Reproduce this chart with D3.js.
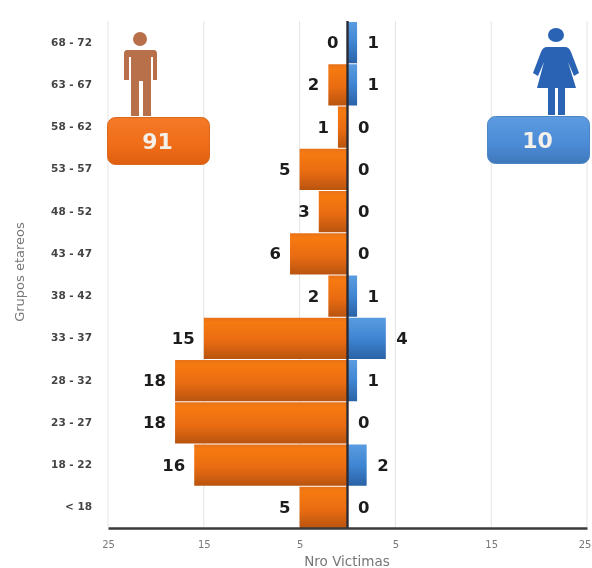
<!DOCTYPE html>
<html><head><meta charset="utf-8">
<script src="https://cdn.jsdelivr.net/npm/d3@7"></script>
<style>html,body{margin:0;padding:0;background:#fff;overflow:hidden}svg{display:block;filter:blur(0.5px)}</style>
</head><body><div id="c"></div>
<script>
const categories=["68 - 72","63 - 67","58 - 62","53 - 57","48 - 52","43 - 47","38 - 42","33 - 37","28 - 32","23 - 27","18 - 22","< 18"];
const maleValues=[0,2,1,5,3,6,2,15,18,18,16,5];
const femaleValues=[1,1,0,0,0,0,1,4,1,0,2,0];
const tickValues=[-25,-15,-5,5,15,25];
const maleTotal=91, femaleTotal=10;
const W=592,H=568;
const x=d3.scaleLinear().domain([-25,25]).range([108,587]);
const y=d3.scaleBand().domain(categories).range([21,528]).padding(0);
const svg=d3.select("#c").append("svg").attr("width",W).attr("height",H);
const defs=svg.append("defs");
function grad(id,stops){const g=defs.append("linearGradient").attr("id",id).attr("x1",0).attr("y1",0).attr("x2",0).attr("y2",1);
 stops.forEach(s=>g.append("stop").attr("offset",s[0]).attr("stop-color",s[1]));}
grad("gm",[[0,"#e8721a"],[.12,"#f67a10"],[.55,"#ea6c12"],[1,"#b9540f"]]);
grad("gf",[[0,"#5a9ce0"],[.5,"#3f85d2"],[1,"#2a62a6"]]);
grad("bm",[[0,"#f47a28"],[.6,"#f06c18"],[1,"#dd5f10"]]);
grad("bf",[[0,"#5c9be0"],[.6,"#4b8bd6"],[1,"#3f78bb"]]);

// grid
svg.append("g").selectAll("line").data(tickValues).join("line")
 .attr("x1",d=>x(d)).attr("x2",d=>x(d)).attr("y1",21).attr("y2",527)
 .attr("stroke","#e4e4e4").attr("stroke-width",1);

// bars
svg.append("g").selectAll("rect").data(categories).join("rect")
 .attr("x",(d,i)=>x(-maleValues[i])).attr("y",d=>y(d)+1).attr("height",y.bandwidth()-1)
 .attr("width",(d,i)=>x(0)-x(-maleValues[i])).attr("fill","url(#gm)");
svg.append("g").selectAll("rect").data(categories).join("rect")
 .attr("x",x(0)).attr("y",d=>y(d)+1).attr("height",y.bandwidth()-1)
 .attr("width",(d,i)=>x(femaleValues[i])-x(0)).attr("fill","url(#gf)");

// center & bottom axis lines
svg.append("line").attr("x1",x(0)).attr("x2",x(0)).attr("y1",21).attr("y2",528).attr("stroke","#2b2b35").attr("stroke-width",2.4);

// x axis
const xa=svg.append("g").attr("transform","translate(0,528)")
 .call(d3.axisBottom(x).tickValues(tickValues).tickFormat(d=>Math.abs(d)).tickSize(0).tickPadding(13));
xa.select(".domain").attr("stroke","#3a3a3a").attr("stroke-width",2.4);
xa.selectAll("text").attr("font-family","'DejaVu Sans',sans-serif").attr("font-size",10).attr("fill","#777");
xa.selectAll("text").filter(d=>d===25).attr("dx",-2.5);

// y labels
const ya=svg.append("g").attr("transform","translate(92,0)")
 .call(d3.axisLeft(y).tickSize(0).tickPadding(0));
ya.select(".domain").remove();
ya.selectAll("text").attr("font-family","'DejaVu Sans',sans-serif").attr("font-size",10.5).attr("font-weight","bold").attr("fill","#444");

// values
const vf="'DejaVu Sans',sans-serif";
svg.append("g").selectAll("text").data(categories).join("text")
 .attr("x",(d,i)=>x(-maleValues[i])-9).attr("y",d=>y(d)+y.bandwidth()/2+6)
 .attr("text-anchor","end").attr("font-family",vf).attr("font-weight","bold").attr("font-size",16.5).attr("fill","#1c1c1c")
 .text((d,i)=>maleValues[i]);
svg.append("g").selectAll("text").data(categories).join("text")
 .attr("x",(d,i)=>x(femaleValues[i])+10.5).attr("y",d=>y(d)+y.bandwidth()/2+6)
 .attr("font-family",vf).attr("font-weight","bold").attr("font-size",16.5).attr("fill","#1c1c1c")
 .text((d,i)=>femaleValues[i]);

// titles
svg.append("text").attr("transform","translate(24,272) rotate(-90)").attr("text-anchor","middle")
 .attr("font-family",vf).attr("font-size",13).attr("fill","#777").text("Grupos etareos");
svg.append("text").attr("x",347).attr("y",566).attr("text-anchor","middle")
 .attr("font-family",vf).attr("font-size",13.5).attr("fill","#777").text("Nro Victimas");

// man icon
const man=svg.append("g").attr("fill","#b8704a");
man.append("circle").attr("cx",140).attr("cy",39).attr("r",7);
man.append("path").attr("d","M127 50 H154 Q157 50 157 54 V80 H153 V57 H151 V116 H143 V81 H139 V116 H131 V57 H129 V80 H124 V54 Q124 50 127 50 Z");
// woman icon
const wom=svg.append("g").attr("fill","#2a62b4");
wom.append("ellipse").attr("cx",556).attr("cy",35).attr("rx",8).attr("ry",7);
wom.append("path").attr("d","M547 47 H565 Q569 47 571 52 L579 73 L574 76 L568 62 L576 88 H537 L544 62 L538 76 L533 73 L541 52 Q543 47 547 47 Z");
wom.append("rect").attr("x",548).attr("y",88).attr("width",7).attr("height",27);
wom.append("rect").attr("x",558).attr("y",88).attr("width",7).attr("height",27);

// badges
function badge(bx,by,fill,stroke,t){
 svg.append("rect").attr("x",bx).attr("y",by).attr("width",102).attr("height",47).attr("rx",8).attr("fill",fill).attr("stroke",stroke).attr("stroke-width",1);
 svg.append("text").attr("x",bx+50).attr("y",by+31).attr("text-anchor","middle").attr("font-family",vf).attr("font-weight","bold").attr("font-size",22).attr("fill","#f4f0ea").text(t);
}
badge(107.5,117.5,"url(#bm)","#d9681e",maleTotal);
badge(487.5,116.5,"url(#bf)","#4d85c2",femaleTotal);
</script></body></html>
